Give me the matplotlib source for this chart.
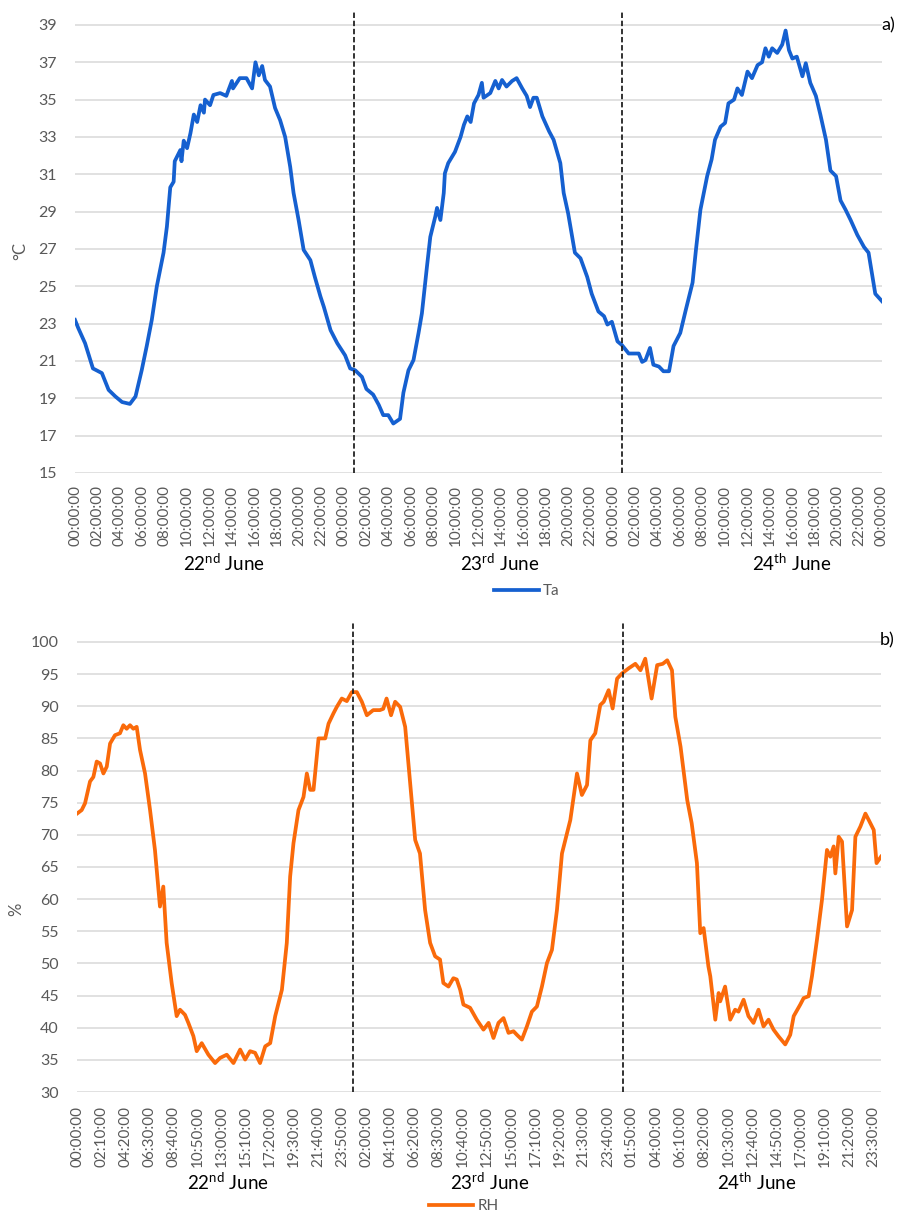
import matplotlib
matplotlib.use("Agg")
import matplotlib.pyplot as plt
import numpy as np

# --- data (hours since 22 June 00:00) ------------------------------------- #
TA_HOURS = [0.0, 0.3, 0.9, 1.6, 2.4, 3.0, 3.6, 4.2, 4.9, 5.4, 5.95, 6.4, 6.85, 7.3,
            7.6, 7.9, 8.2, 8.5, 8.8, 8.9, 9.4, 9.5, 9.7, 10.0, 10.3, 10.6, 10.9,
            11.2, 11.5, 11.6, 12.05, 12.35, 12.95, 13.5, 14.0, 14.1, 14.7, 15.3,
            15.8, 16.1, 16.4, 16.7, 16.95, 17.4, 17.85, 18.3, 18.75, 19.2, 19.5,
            19.95, 20.4, 21.0, 21.4, 21.9, 22.2, 22.8, 23.4, 24.1, 24.55, 25.0,
            25.6, 26.0, 26.6, 27.1, 27.5, 27.95, 28.4, 29.0, 29.3, 29.75, 30.2,
            30.65, 30.95, 31.4, 31.7, 32.15, 32.3, 32.6, 32.9, 33.0, 33.3, 33.9,
            34.4, 34.7, 35.0, 35.3, 35.6, 36.0, 36.3, 36.45, 37.05, 37.5, 37.8,
            38.1, 38.5, 39.0, 39.4, 39.9, 40.3, 40.6, 40.9, 41.2, 41.7, 42.3,
            42.7, 43.3, 43.6, 44.0, 44.6, 45.1, 45.7, 46.1, 46.7, 47.2, 47.5,
            47.9, 48.4, 48.8, 49.4, 50.3, 50.6, 50.9, 51.3, 51.6, 52.1, 52.5,
            53.0, 53.4, 54.0, 54.5, 55.1, 55.4, 55.8, 56.4, 56.8, 57.1, 57.6,
            58.0, 58.3, 58.8, 59.1, 59.5, 60.0, 60.4, 60.9, 61.3, 61.6, 61.9,
            62.2, 62.65, 63.1, 63.4, 63.7, 64.0, 64.4, 64.9, 65.2, 65.6, 66.1,
            66.5, 67.0, 67.4, 67.9, 68.3, 68.75, 69.2, 69.8, 70.4, 70.8, 71.1,
            71.4, 72.0]
TA_VALUES = [23.2, 22.75, 21.95, 20.6, 20.35, 19.45, 19.1, 18.8, 18.7, 19.1, 20.5,
             21.8, 23.2, 25.0, 25.9, 26.8, 28.2, 30.3, 30.6, 31.7, 32.3, 31.7, 32.8,
             32.4, 33.2, 34.2, 33.8, 34.7, 34.3, 35.0, 34.7, 35.25, 35.35, 35.2,
             36.0, 35.6, 36.15, 36.15, 35.6, 37.0, 36.3, 36.8, 36.05, 35.7, 34.55,
             33.9, 33.0, 31.4, 30.0, 28.55, 26.95, 26.4, 25.5, 24.45, 23.9, 22.65,
             21.95, 21.3, 20.6, 20.5, 20.15, 19.5, 19.2, 18.65, 18.1, 18.1, 17.65,
             17.9, 19.3, 20.5, 21.05, 22.5, 23.55, 26.05, 27.65, 28.75, 29.2, 28.55,
             30.0, 31.05, 31.6, 32.2, 33.0, 33.65, 34.1, 33.8, 34.8, 35.25, 35.9,
             35.1, 35.35, 36.0, 35.6, 36.05, 35.7, 36.0, 36.15, 35.6, 35.2, 34.6,
             35.1, 35.1, 34.1, 33.3, 32.85, 31.6, 30.0, 28.9, 26.8, 26.5, 25.5,
             24.6, 23.65, 23.4, 22.95, 23.1, 22.05, 21.85, 21.4, 21.4, 20.95, 21.05,
             21.7, 20.8, 20.7, 20.45, 20.45, 21.8, 22.5, 23.75, 25.2, 26.95, 29.1,
             30.9, 31.8, 32.85, 33.55, 33.75, 34.8, 35.0, 35.6, 35.25, 36.5, 36.15,
             36.85, 37.0, 37.75, 37.3, 37.75, 37.5, 37.95, 38.7, 37.65, 37.2, 37.3,
             36.25, 36.95, 35.9, 35.2, 34.2, 32.85, 31.2, 30.9, 29.6, 29.1, 28.55,
             27.75, 27.1, 26.8, 25.7, 24.6, 24.2]

RH_HOURS = [0.0, 0.42, 0.72, 1.17, 1.47, 1.77, 2.07, 2.37, 2.67, 2.97, 3.41, 3.86,
            4.16, 4.46, 4.76, 5.06, 5.36, 5.66, 6.11, 6.56, 7.0, 7.45, 7.75, 8.05,
            8.5, 8.95, 9.25, 9.7, 10.0, 10.45, 10.75, 11.2, 11.8, 12.4, 12.85,
            13.45, 14.05, 14.65, 15.1, 15.54, 15.99, 16.44, 16.9, 17.35, 17.8,
            18.4, 18.84, 19.14, 19.44, 19.89, 20.34, 20.64, 20.94, 21.24, 21.69,
            22.29, 22.59, 23.03, 23.33, 23.78, 24.23, 24.68, 25.13, 25.58, 26.03,
            26.6, 27.2, 27.5, 27.8, 28.2, 28.57, 29.02, 29.47, 29.76, 30.06, 30.37,
            30.8, 31.26, 31.71, 32.16, 32.6, 32.9, 33.36, 33.8, 34.1, 34.41, 34.7,
            35.3, 35.9, 36.5, 36.96, 37.4, 37.85, 38.3, 38.75, 39.2, 39.5, 39.95,
            40.4, 40.85, 41.3, 41.75, 42.2, 42.65, 43.1, 43.55, 44.3, 44.6, 44.9,
            45.34, 45.8, 46.1, 46.54, 46.99, 47.3, 47.74, 48.1, 48.5, 48.94, 49.54,
            50.14, 50.6, 51.03, 51.6, 52.1, 52.6, 53.0, 53.43, 53.73, 54.2, 54.8,
            55.2, 55.67, 55.97, 56.27, 56.7, 56.87, 57.32, 57.62, 57.76, 58.2,
            58.66, 59.1, 59.4, 59.86, 60.3, 60.75, 61.2, 61.65, 62.1, 62.55, 63.0,
            63.6, 64.05, 64.36, 64.95, 65.25, 65.7, 66.0, 66.45, 66.9, 67.35,
            67.65, 67.95, 68.1, 68.4, 68.7, 69.15, 69.6, 69.9, 70.35, 70.8, 71.1,
            71.55, 71.8, 72.2]
RH_VALUES = [73.3, 73.85, 74.9, 78.3, 79.0, 81.4, 81.1, 79.55, 80.6, 84.2, 85.5,
             85.8, 87.05, 86.5, 87.05, 86.5, 86.8, 83.2, 79.55, 73.85, 67.65, 58.85,
             61.95, 53.2, 46.95, 41.8, 42.8, 42.0, 40.75, 38.7, 36.35, 37.6, 35.8,
             34.5, 35.3, 35.8, 34.5, 36.6, 35.05, 36.35, 36.1, 34.5, 37.1, 37.6,
             41.8, 45.9, 53.2, 63.5, 68.7, 73.85, 75.9, 79.55, 77.0, 77.0, 85.0,
             85.0, 87.3, 88.9, 89.9, 91.2, 90.8, 92.2, 92.2, 90.7, 88.6, 89.4, 89.4,
             89.6, 91.2, 88.6, 90.7, 89.9, 86.8, 81.1, 75.4, 69.2, 67.1, 58.3, 53.2,
             51.1, 50.6, 46.95, 46.4, 47.7, 47.5, 45.9, 43.6, 43.1, 41.25, 39.7,
             40.75, 38.4, 40.75, 41.5, 39.2, 39.45, 38.9, 38.15, 40.2, 42.5, 43.3,
             46.4, 50.05, 52.1, 58.3, 67.1, 72.3, 75.9, 79.55, 76.2, 77.75, 84.7,
             85.8, 90.2, 90.7, 92.5, 89.65, 94.3, 95.1, 95.9, 96.6, 95.6, 97.4,
             91.2, 96.4, 96.6, 97.15, 95.6, 88.35, 83.7, 75.4, 71.8, 65.6, 54.7,
             55.5, 49.55, 48.0, 41.25, 45.4, 44.1, 46.4, 41.25, 42.8, 42.5, 44.35,
             41.8, 40.75, 42.8, 40.2, 41.25, 39.7, 38.65, 37.4, 38.9, 41.8, 43.6,
             44.6, 44.9, 48.0, 53.7, 59.9, 67.65, 66.6, 68.2, 64.0, 69.7, 68.95,
             55.75, 58.3, 69.7, 71.3, 73.3, 72.3, 70.75, 65.6, 66.6]

# day separators (hours) and day captions
DAY_SPLITS_TA = [24.9, 48.8]
DAY_SPLITS_RH = [24.8, 49.0]
DAY_NAMES = ["22$^{\\mathrm{nd}}$ June", "23$^{\\mathrm{rd}}$ June",
             "24$^{\\mathrm{th}}$ June"]

# axis ticks
TA_YTICKS = list(range(15, 40, 2))
RH_YTICKS = list(range(30, 101, 5))
TA_XTICK_MIN = list(range(0, 72 * 60 + 1, 120))      # every 2 h
RH_XTICK_MIN = list(range(0, 4290 + 1, 130))         # every 2 h 10 min
TA_XLABELS = [f"{(m // 60) % 24:02d}:{m % 60:02d}:00" for m in TA_XTICK_MIN]
RH_XLABELS = [f"{(m // 60) % 24:02d}:{m % 60:02d}:00" for m in RH_XTICK_MIN]

FONT = "Lato"
plt.rcParams["font.family"] = [FONT, "DejaVu Sans"]
plt.rcParams["mathtext.fontset"] = "custom"
plt.rcParams["mathtext.rm"] = FONT
plt.rcParams["mathtext.it"] = FONT

W, H = 898, 1214
GREY = "#595959"


def fx(px):
    return px / W


def fy(py):
    return 1 - py / H


def style_axes(ax, yticks, xticks_h, xlabels, ypad, xpad):
    for s in ax.spines.values():
        s.set_visible(False)
    ax.set_yticks(yticks)
    ax.set_xticks(xticks_h)
    ax.set_xticklabels(xlabels, rotation=90, fontsize=11, color=GREY)
    ax.tick_params(axis="y", length=0, pad=ypad, labelsize=11.5, labelcolor=GREY)
    ax.tick_params(axis="x", length=0, pad=xpad)
    ax.grid(axis="y", color="#d9d9d9", linewidth=1.1)
    ax.set_axisbelow(True)


fig = plt.figure(figsize=(W / 100, H / 100), dpi=100)

# --- a) air temperature ---------------------------------------------------- #
ax1 = fig.add_axes([fx(75), fy(473), fx(882) - fx(75), fy(10) - fy(473)])
ax1.plot(TA_HOURS, TA_VALUES, color="#1560D0", linewidth=2.7, label="Ta",
         solid_joinstyle="round")
for d in DAY_SPLITS_TA:
    ax1.axvline(d, color="#222222", linewidth=1.3, linestyle=(0, (3, 1.5)))
ax1.set_xlim(0, 72)
ax1.set_ylim(15, 39.8)
style_axes(ax1, TA_YTICKS, [m / 60 for m in TA_XTICK_MIN], TA_XLABELS, 13, 9)
ax1.set_ylabel("°C", fontsize=12, color=GREY)
ax1.yaxis.set_label_coords(-0.058, 0.48)
fig.text(fx(888), fy(25), "a)", fontsize=13, ha="center", va="center")
for x, name in zip([224, 500, 792], DAY_NAMES):
    fig.text(fx(x), fy(563), name, fontsize=13.5, ha="center", va="center")
fig.legend(handles=ax1.get_lines()[:1], labels=["Ta"], loc="center",
           bbox_to_anchor=(fx(527), fy(591)), frameon=False, fontsize=11,
           labelcolor=GREY, handlelength=2.9, handletextpad=0.3, borderpad=0)

# --- b) relative humidity -------------------------------------------------- #
ax2 = fig.add_axes([fx(77), fy(1092), fx(881) - fx(77), fy(623) - fy(1092)])
ax2.plot(RH_HOURS, RH_VALUES, color="#FA6A0A", linewidth=2.7, label="RH",
         solid_joinstyle="round")
for d in DAY_SPLITS_RH:
    ax2.axvline(d, color="#222222", linewidth=1.3, linestyle=(0, (3, 1.5)))
ax2.set_xlim(0, 72.2)
ax2.set_ylim(30, 102.95)
style_axes(ax2, RH_YTICKS, [m / 60 for m in RH_XTICK_MIN], RH_XLABELS, 13, 10)
ax2.set_ylabel("%", fontsize=12, color=GREY)
ax2.yaxis.set_label_coords(-0.066, 0.39)
fig.text(fx(887), fy(640), "b)", fontsize=13, ha="center", va="center")
for x, name in zip([228, 490, 757], DAY_NAMES):
    fig.text(fx(x), fy(1182), name, fontsize=13.5, ha="center", va="center")
fig.legend(handles=ax2.get_lines()[:1], labels=["RH"], loc="center",
           bbox_to_anchor=(fx(464), fy(1206)), frameon=False, fontsize=11,
           labelcolor=GREY, handlelength=2.9, handletextpad=0.3, borderpad=0)

fig.savefig("out.png", dpi=100)
